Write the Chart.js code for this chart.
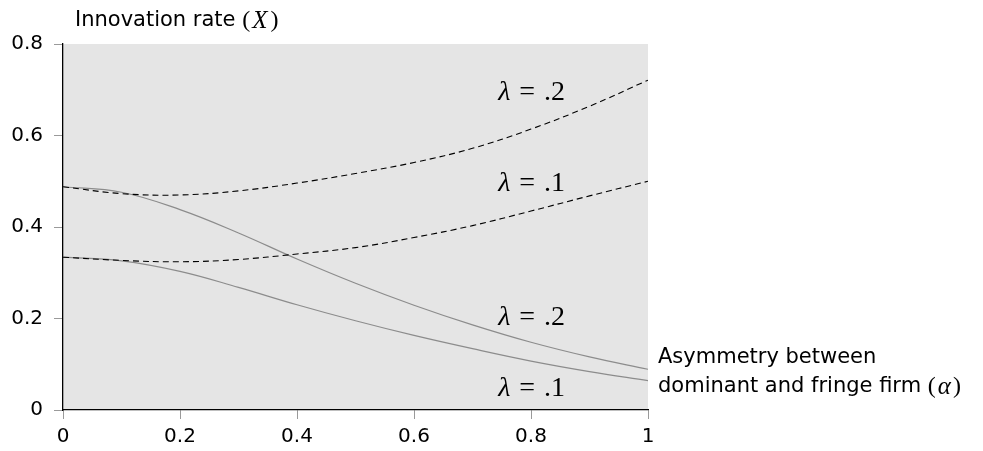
<!DOCTYPE html>
<html>
<head>
<meta charset="utf-8">
<script src="https://cdn.jsdelivr.net/npm/chart.js@4.4.1/dist/chart.umd.min.js"></script>
<style>
  html, body { margin: 0; padding: 0; background: #fff; }
  #wrap { width: 983px; height: 451px; }
</style>
</head>
<body>
<div id="wrap"><canvas id="chart" width="983" height="451"></canvas></div>
<script>
// ===== data =====
const alpha = [0, 0.1, 0.2, 0.3, 0.4, 0.5, 0.6, 0.7, 0.8, 0.9, 1];
const dashed_l2 = [0.488, 0.473, 0.470, 0.479, 0.496, 0.517, 0.541, 0.572, 0.614, 0.664, 0.721];
const dashed_l1 = [0.334, 0.327, 0.324, 0.329, 0.341, 0.355, 0.377, 0.403, 0.435, 0.468, 0.500];
const solid_l2 = [0.488, 0.476, 0.438, 0.387, 0.330, 0.277, 0.229, 0.186, 0.148, 0.116, 0.089];
const solid_l1 = [0.334, 0.326, 0.303, 0.268, 0.230, 0.195, 0.163, 0.134, 0.107, 0.084, 0.064];

const xTicks = [0, 0.2, 0.4, 0.6, 0.8, 1];
const xTickLabels = ['0', '0.2', '0.4', '0.6', '0.8', '1'];
const yTicks = [0, 0.2, 0.4, 0.6, 0.8];
const yTickLabels = ['0', '0.2', '0.4', '0.6', '0.8'];

// curve labels: [text, alpha, value]
const curveLabels = [
  ['.2', 0.801, 0.695],
  ['.1', 0.801, 0.496],
  ['.2', 0.801, 0.204],
  ['.1', 0.801, 0.049],
];

const pts = arr => arr.map((v, i) => ({x: alpha[i], y: v}));

const SANS = '"DejaVu Sans", sans-serif';
const SERIF = '"Liberation Serif", serif';

// gray plot background
const bgPlugin = {
  id: 'bg',
  beforeDraw(chart) {
    const {ctx, chartArea: a} = chart;
    ctx.save();
    ctx.fillStyle = '#e5e5e5';
    ctx.fillRect(a.left, a.top, a.right - a.left, a.bottom - a.top);
    ctx.restore();
  }
};

// draw a run of [text, font, gap] pieces
function drawPieces(ctx, pieces, x, y) {
  let cx = x;
  pieces.forEach(p => {
    ctx.font = p[1];
    ctx.fillText(p[0], cx, y);
    cx += ctx.measureText(p[0]).width + (p[2] || 0);
  });
}
function piecesWidth(ctx, pieces) {
  let w = 0;
  pieces.forEach(p => { ctx.font = p[1]; w += ctx.measureText(p[0]).width + (p[2] || 0); });
  return w;
}

const textPlugin = {
  id: 'texts',
  afterDraw(chart) {
    const {ctx} = chart;
    const xs = chart.scales.x, ys = chart.scales.y;
    ctx.save();
    ctx.fillStyle = '#000';
    ctx.textBaseline = 'middle';
    ctx.textAlign = 'left';

    // curve labels
    curveLabels.forEach(l => {
      const pieces = [
        ['λ', 'italic 28px ' + SERIF, 9],
        ['=', '28px ' + SERIF, 9],
        [l[0], '28px ' + SERIF]
      ];
      const w = piecesWidth(ctx, pieces);
      drawPieces(ctx, pieces, xs.getPixelForValue(l[1]) - w / 2, ys.getPixelForValue(l[2]) + 1);
    });

    // y axis title
    drawPieces(ctx, [
      ['Innovation rate ', '21px ' + SANS, 0],
      ['(', '24px ' + SERIF, 2],
      ['X', 'italic 25px ' + SERIF, 3],
      [')', '24px ' + SERIF]
    ], 75, 21);

    // x axis title
    const right = chart.chartArea.right;
    ctx.font = '21px ' + SANS;
    ctx.fillText('Asymmetry between', right + 10, 358);
    drawPieces(ctx, [
      ['dominant and fringe firm ', '21px ' + SANS, 0],
      ['(', '24px ' + SERIF, 2],
      ['α', 'italic 25px ' + SERIF, 2],
      [')', '24px ' + SERIF]
    ], right + 10, 387);
    ctx.restore();
  }
};

new Chart(document.getElementById('chart'), {
  type: 'line',
  data: {
    datasets: [
      {data: pts(dashed_l2), borderColor: '#000', borderWidth: 1.1, borderDash: [6, 4]},
      {data: pts(dashed_l1), borderColor: '#000', borderWidth: 1.1, borderDash: [6, 4]},
      {data: pts(solid_l2), borderColor: '#8c8c8c', borderWidth: 1.2},
      {data: pts(solid_l1), borderColor: '#8c8c8c', borderWidth: 1.2},
    ]
  },
  options: {
    responsive: false,
    animation: false,
    elements: {
      point: {radius: 0},
      line: {tension: 0.4, fill: false}
    },
    layout: {padding: {top: 44, right: 335, left: 0, bottom: 0}},
    plugins: {legend: {display: false}, tooltip: {enabled: false}},
    scales: {
      x: {
        type: 'linear', min: 0, max: 1,
        afterFit(s) { s.height = 41; },
        afterBuildTicks(s) { s.ticks = xTicks.map(v => ({value: v})); },
        border: {display: true, color: '#000', width: 1.3},
        grid: {drawOnChartArea: false, drawTicks: true, tickLength: 9, color: '#9a9a9a'},
        ticks: {
          color: '#000', padding: 6,
          font: {family: 'DejaVu Sans', size: 20},
          callback: (v) => xTickLabels[xTicks.indexOf(v)]
        }
      },
      y: {
        type: 'linear', min: 0, max: 0.8,
        afterFit(s) { s.width = 63; },
        afterBuildTicks(s) { s.ticks = yTicks.map(v => ({value: v})); },
        border: {display: true, color: '#000', width: 1.3},
        grid: {drawOnChartArea: false, drawTicks: true, tickLength: 9, color: '#9a9a9a'},
        ticks: {
          color: '#000', padding: 11,
          font: {family: 'DejaVu Sans', size: 20},
          callback: (v) => yTickLabels[yTicks.indexOf(v)]
        }
      }
    }
  },
  plugins: [bgPlugin, textPlugin]
});
</script>
</body>
</html>
